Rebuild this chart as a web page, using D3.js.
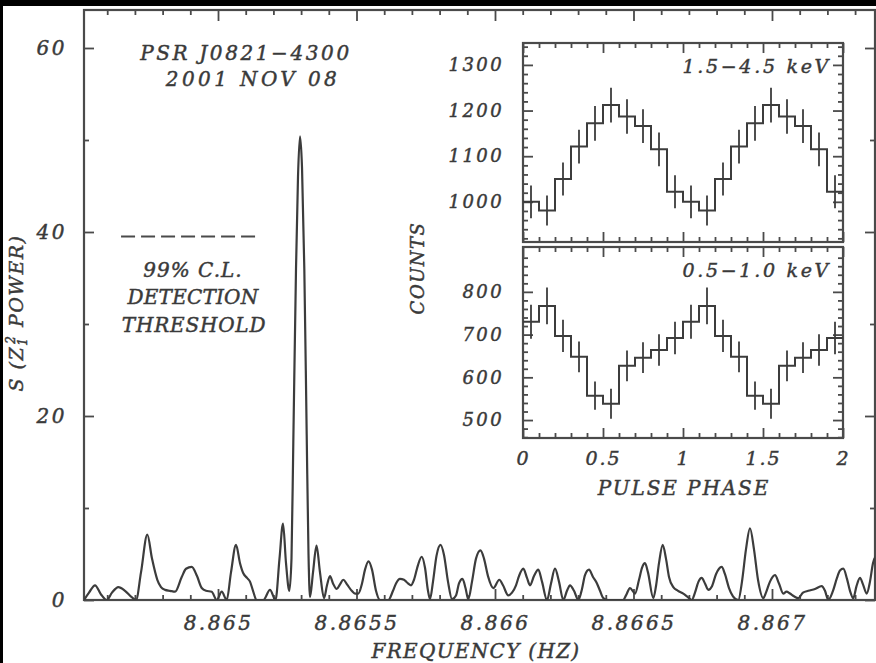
<!DOCTYPE html>
<html><head><meta charset="utf-8">
<script src="https://cdn.jsdelivr.net/npm/d3@7"></script>
<style>
body{margin:0;background:#000;}
svg text{font-family:"DejaVu Serif",serif;font-style:italic;fill:#3a3a3a;stroke:#3a3a3a;stroke-width:0.45px;}
</style>
</head><body>
<svg id="c" width="876" height="663"></svg>
<script>
// ---------------- DATA ----------------
// Z1^2 periodogram: frequency (Hz) and power
const freqHz = [
8.8645162,8.8645343,8.8645560,8.8645776,8.8645982,8.8646173,8.8646401,8.8646643,8.8646885,8.8647040,
8.8647220,8.8647448,8.8647617,8.8647809,8.8647942,8.8648087,8.8648267,8.8648448,8.8648690,8.8648845,
8.8649051,8.8649242,8.8649412,8.8649567,8.8649773,8.8649953,8.8650134,8.8650314,8.8650469,8.8650650,
8.8650794,8.8650913,8.8651047,8.8651155,8.8651264,8.8651390,8.8651635,8.8651877,8.8652076,8.8652220,
8.8652347,8.8652455,8.8652574,8.8652653,8.8652718,8.8652816,8.8652888,8.8652960,8.8653033,8.8653116,
8.8653202,8.8653267,8.8653321,8.8653430,8.8653556,8.8653682,8.8653827,8.8653935,8.8654043,8.8654152,
8.8654285,8.8654404,8.8654523,8.8654657,8.8654827,8.8654946,8.8655065,8.8655199,8.8655307,8.8655433,
8.8655560,8.8655704,8.8655848,8.8656148,8.8656318,8.8656426,8.8656570,8.8656715,8.8656823,8.8656968,
8.8657076,8.8657220,8.8657354,8.8657473,8.8657581,8.8657653,8.8657762,8.8657888,8.8658033,8.8658159,
8.8658303,8.8658448,8.8658592,8.8658700,8.8658827,8.8658935,8.8659036,8.8659170,8.8659314,8.8659477,
8.8659603,8.8659747,8.8659939,8.8660155,8.8660289,8.8660480,8.8660614,8.8660758,8.8660866,8.8661022,
8.8661155,8.8661264,8.8661408,8.8661563,8.8661697,8.8661877,8.8662022,8.8662166,8.8662310,8.8662466,
8.8662599,8.8662708,8.8662852,8.8663007,8.8663141,8.8663249,8.8663394,8.8663538,8.8663682,8.8663791,
8.8663910,8.8664079,8.8664260,8.8664621,8.8664729,8.8664874,8.8665054,8.8665199,8.8665307,8.8665415,
8.8665523,8.8665715,8.8665812,8.8665921,8.8666054,8.8666173,8.8666282,8.8666437,8.8666607,8.8666798,
8.8666931,8.8667101,8.8667220,8.8667347,8.8667462,8.8667581,8.8667700,8.8667834,8.8667978,8.8668087,
8.8668184,8.8668303,8.8668448,8.8668592,8.8668783,8.8668917,8.8669061,8.8669206,8.8669350,8.8669495,
8.8669686,8.8669783,8.8669928,8.8670108,8.8670253,8.8670408,8.8670523,8.8670650,8.8670794,8.8670949,
8.8671119,8.8671310,8.8671552,8.8671794,8.8671913,8.8672032,8.8672202,8.8672347,8.8672455,8.8672574,
8.8672708,8.8672816,8.8672935,8.8673051,8.8673177,8.8673285,8.8673419,8.8673538,8.8673646,8.8673755
];
const power = [
0.0,0.8,1.6,0.6,0.0,0.8,1.4,1.0,0.3,0.0,
3.0,7.1,4.5,2.2,1.4,1.1,1.0,0.9,2.5,3.4,
3.6,2.6,1.3,1.0,0.9,0.0,0.9,0.0,3.0,6.0,
4.0,2.9,2.4,2.0,1.0,0.0,0.0,1.1,0.0,4.5,
8.3,4.0,1.0,4.5,17,36,46,50.4,47,36,
18,5,0.3,3.0,5.9,3.0,0.2,1.6,2.6,1.8,
1.2,1.7,2.2,1.7,1.0,0.7,0.7,1.8,3.3,4.2,
3.3,1.0,0.0,0.0,1.0,1.8,2.3,2.2,1.9,1.6,
2.2,3.8,4.7,3.5,1.0,0.1,2.0,4.8,6.0,4.9,
2.0,0.1,0.5,1.8,2.3,1.3,0.1,2.0,4.5,5.4,
4.5,2.6,1.3,2.2,1.6,0.5,0.8,1.6,2.6,3.4,
2.4,1.6,2.6,3.3,2.0,0.0,1.8,3.4,2.0,0.0,
1.0,1.6,1.0,0.0,1.2,2.7,3.3,2.5,1.8,1.0,
0.2,0.0,0.0,0.0,0.5,1.3,0.7,2.2,3.5,4.0,
3.0,0.2,1.5,4.0,6.0,4.5,2.5,1.4,1.0,0.7,
0.4,0.0,0.8,2.0,2.4,1.8,1.1,1.5,2.8,3.4,
3.6,2.8,1.3,0.4,0.0,2.0,5.5,7.8,5.5,2.2,
0.2,0.8,2.0,2.7,1.8,0.7,0.9,0.7,0.4,0.2,
0.8,1.0,1.2,1.5,1.0,0.0,1.0,2.4,3.2,3.4,
2.3,1.0,0.2,1.5,2.4,1.7,0.7,2.0,4.0,4.8
];
const thresholdPower = 39.5;
const thresholdFreq = [8.86465, 8.86515];

const mainXTicks = [8.865, 8.8655, 8.866, 8.8665, 8.867];
const mainXTickLabels = ["8.865", "8.8655", "8.866", "8.8665", "8.867"];
const mainYTicks = [0, 20, 40, 60];
const mainYMinor = [10, 30, 50];

// pulse profiles (phase-bin start, counts, 1-sigma error)
const phaseStart = [0,0.1,0.2,0.3,0.4,0.5,0.6,0.7,0.8,0.9,1.0,1.1,1.2,1.3,1.4,1.5,1.6,1.7,1.8,1.9];
const hardCounts = [1000,981,1050,1121,1172,1212,1187,1166,1115,1022,1000,981,1050,1121,1172,1212,1187,1166,1115,1022];
const hardErr    = [36,33,36,37,38,38,38,37,37,36,36,33,36,37,38,38,38,37,37,36];
const softCounts = [730,767,697,648,557,538,627,646,664,692,730,767,697,648,557,538,627,646,664,692];
const softErr    = [40,43,38,36,33,35,36,36,37,38,40,43,38,36,33,35,36,36,37,38];
const phaseTicks = [0, 0.5, 1, 1.5, 2];
const phaseTickLabels = ["0", "0.5", "1", "1.5", "2"];
const hardYTicks = [1000, 1100, 1200, 1300];
const softYTicks = [500, 600, 700, 800];

// ---------------- DRAW ----------------
const W = 876, H = 663, INK = "#4a4a4a";
const svg = d3.select("#c");
svg.append("rect").attr("width", W).attr("height", H).attr("fill", "#000");
svg.append("rect").attr("x", 3).attr("y", 6).attr("width", W - 3).attr("height", H - 6).attr("fill", "#fff");

function styleAx(g, fs, ls) {
  g.select(".domain").remove();
  g.selectAll("line").attr("stroke", INK).attr("stroke-width", 1.8);
  g.selectAll("text").style("font-size", fs + "px").style("letter-spacing", ls + "px");
}
function addText(txt, xx, yy, fs, ls, anchor) {
  return svg.append("text").attr("x", xx).attr("y", yy).attr("text-anchor", anchor || "middle")
    .style("font-size", fs + "px").style("letter-spacing", ls + "px").text(txt);
}

// main plot
const M = {l: 84, r: 875, t: 10, b: 600};
const x = d3.scaleLinear().domain([8.8645162, 8.8673719]).range([M.l, M.r]);
const y = d3.scaleLinear().domain([0, 64.13]).range([M.b, M.t]);
const xMinor = d3.range(8.8646, 8.86735, 0.0001).filter(v => !mainXTicks.some(t => Math.abs(t - v) < 1e-7));

svg.append("defs").append("clipPath").attr("id", "mclip").append("rect")
  .attr("x", M.l).attr("y", M.t).attr("width", M.r - M.l).attr("height", M.b - M.t);

svg.append("g").attr("transform", `translate(0,${M.b})`)
  .call(d3.axisBottom(x).tickValues(mainXTicks).tickSizeInner(-11).tickSizeOuter(0).tickPadding(16)
    .tickFormat((d, i) => mainXTickLabels[i])).call(g => styleAx(g, 20, 2.5));
svg.append("g").attr("transform", `translate(0,${M.b})`)
  .call(d3.axisBottom(x).tickValues(xMinor).tickSizeInner(-5).tickSizeOuter(0).tickFormat(""))
  .call(g => styleAx(g, 20, 0));
svg.append("g").attr("transform", `translate(0,${M.t})`)
  .call(d3.axisTop(x).tickValues(mainXTicks).tickSizeInner(-11).tickSizeOuter(0).tickFormat(""))
  .call(g => styleAx(g, 20, 0));
svg.append("g").attr("transform", `translate(0,${M.t})`)
  .call(d3.axisTop(x).tickValues(xMinor).tickSizeInner(-5).tickSizeOuter(0).tickFormat(""))
  .call(g => styleAx(g, 20, 0));
svg.append("g").attr("transform", `translate(${M.l},0)`)
  .call(d3.axisLeft(y).tickValues(mainYTicks).tickSizeInner(-10).tickSizeOuter(0).tickPadding(17)
    .tickFormat(d3.format("d"))).call(g => styleAx(g, 20, 2.5));
svg.append("g").attr("transform", `translate(${M.l},0)`)
  .call(d3.axisLeft(y).tickValues(mainYMinor).tickSizeInner(-5).tickSizeOuter(0).tickFormat(""))
  .call(g => styleAx(g, 20, 0));
svg.append("g").attr("transform", `translate(${M.r},0)`)
  .call(d3.axisLeft(y).tickValues(mainYTicks).tickSizeInner(10).tickSizeOuter(0).tickFormat(""))
  .call(g => styleAx(g, 20, 0));
svg.append("g").attr("transform", `translate(${M.r},0)`)
  .call(d3.axisLeft(y).tickValues(mainYMinor).tickSizeInner(5).tickSizeOuter(0).tickFormat(""))
  .call(g => styleAx(g, 20, 0));
svg.append("rect").attr("x", M.l).attr("y", M.t).attr("width", M.r - M.l).attr("height", M.b - M.t)
  .attr("fill", "none").attr("stroke", INK).attr("stroke-width", 2.2);

const pts = freqHz.map((f, i) => [f, power[i]]);
svg.append("path").datum(pts).attr("clip-path", "url(#mclip)")
  .attr("fill", "none").attr("stroke", "#3c3c3c").attr("stroke-width", 2.2).attr("stroke-linejoin", "round")
  .attr("d", d3.line().x(d => x(d[0])).y(d => y(d[1])).curve(d3.curveMonotoneX));

svg.append("line").attr("x1", x(thresholdFreq[0])).attr("x2", x(thresholdFreq[1]))
  .attr("y1", y(thresholdPower)).attr("y2", y(thresholdPower))
  .attr("stroke", INK).attr("stroke-width", 2).attr("stroke-dasharray", "14,6");

addText("PSR J0821\u22124300", 246, 60, 20, 2.6);
addText("2001 NOV 08", 253, 86, 20, 3.4);
addText("99% C.L.", 193, 277, 20, 1);
addText("DETECTION", 193, 304, 20, 0.2);
addText("THRESHOLD", 194, 332, 20, 0.8);
addText("FREQUENCY (HZ)", 476, 658, 20, 1.3);

const yl = svg.append("text").attr("transform", "translate(23,313) rotate(-90)").attr("text-anchor", "middle")
  .style("font-size", "19px").style("letter-spacing", "1.5px");
yl.append("tspan").text("S (Z");
yl.append("tspan").attr("dy", 4).style("font-size", "12px").text("1");
yl.append("tspan").attr("dx", -7).attr("dy", -12).style("font-size", "12px").text("2");
yl.append("tspan").attr("dy", 8).text(" POWER)");

// inset
const ix = d3.scaleLinear().domain([0, 2]).range([523, 843]);
const iyH = d3.scaleLinear().domain([912, 1348]).range([242, 43]);
const iyS = d3.scaleLinear().domain([458, 905]).range([438, 247]);
const phMinor = d3.range(0.1, 2.0, 0.1).filter(v => Math.abs(v * 2 - Math.round(v * 2)) > 1e-6);

function panel(ys, yTicks, yMinor, counts, errs, labelX) {
  const [yb, yt] = ys.range();
  const add = (ax, tr, fs, ls) => svg.append("g").attr("transform", tr).call(ax).call(g => styleAx(g, fs, ls));
  add(d3.axisBottom(ix).tickValues(phaseTicks).tickSizeInner(-10).tickSizeOuter(0).tickPadding(14)
      .tickFormat((d, i) => labelX ? phaseTickLabels[i] : ""), `translate(0,${yb})`, 19, 2);
  add(d3.axisBottom(ix).tickValues(phMinor).tickSizeInner(-5).tickSizeOuter(0).tickFormat(""), `translate(0,${yb})`, 19, 0);
  add(d3.axisTop(ix).tickValues(phaseTicks).tickSizeInner(-10).tickSizeOuter(0).tickFormat(""), `translate(0,${yt})`, 19, 0);
  add(d3.axisTop(ix).tickValues(phMinor).tickSizeInner(-5).tickSizeOuter(0).tickFormat(""), `translate(0,${yt})`, 19, 0);
  add(d3.axisLeft(ys).tickValues(yTicks).tickSizeInner(-10).tickSizeOuter(0).tickPadding(19)
      .tickFormat(d3.format("d")), `translate(${ix(0)},0)`, 18, 2.4);
  add(d3.axisLeft(ys).tickValues(yMinor).tickSizeInner(-5).tickSizeOuter(0).tickFormat(""), `translate(${ix(0)},0)`, 18, 0);
  add(d3.axisLeft(ys).tickValues(yTicks).tickSizeInner(10).tickSizeOuter(0).tickFormat(""), `translate(${ix(2)},0)`, 18, 0);
  add(d3.axisLeft(ys).tickValues(yMinor).tickSizeInner(5).tickSizeOuter(0).tickFormat(""), `translate(${ix(2)},0)`, 18, 0);
  svg.append("rect").attr("x", ix(0)).attr("y", yt).attr("width", ix(2) - ix(0)).attr("height", yb - yt)
    .attr("fill", "none").attr("stroke", INK).attr("stroke-width", 2.2);
  const st = phaseStart.map((p, i) => [p, counts[i]]);
  st.push([2, counts[counts.length - 1]]);
  svg.append("path").datum(st).attr("fill", "none").attr("stroke", "#3c3c3c").attr("stroke-width", 2)
    .attr("d", d3.line().x(d => ix(d[0])).y(d => ys(d[1])).curve(d3.curveStepAfter));
  svg.append("g").selectAll("line").data(phaseStart).join("line")
    .attr("x1", (p) => ix(p + 0.05)).attr("x2", (p) => ix(p + 0.05))
    .attr("y1", (p, i) => ys(counts[i] - errs[i])).attr("y2", (p, i) => ys(counts[i] + errs[i]))
    .attr("stroke", "#3c3c3c").attr("stroke-width", 1.8);
}
panel(iyH, hardYTicks, d3.range(920, 1348, 20).filter(v => v % 100), hardCounts, hardErr, false);
panel(iyS, softYTicks, d3.range(460, 905, 20).filter(v => v % 100), softCounts, softErr, true);

addText("1.5\u22124.5 keV", 831, 73, 19, 2.7, "end");
addText("0.5\u22121.0 keV", 831, 277, 19, 2.7, "end");
addText("PULSE PHASE", 684, 495, 20, 1.9);
svg.append("text").attr("transform", "translate(424,268) rotate(-90)").attr("text-anchor", "middle")
  .style("font-size", "18px").style("letter-spacing", "1.5px").text("COUNTS");
</script>
</body></html>
